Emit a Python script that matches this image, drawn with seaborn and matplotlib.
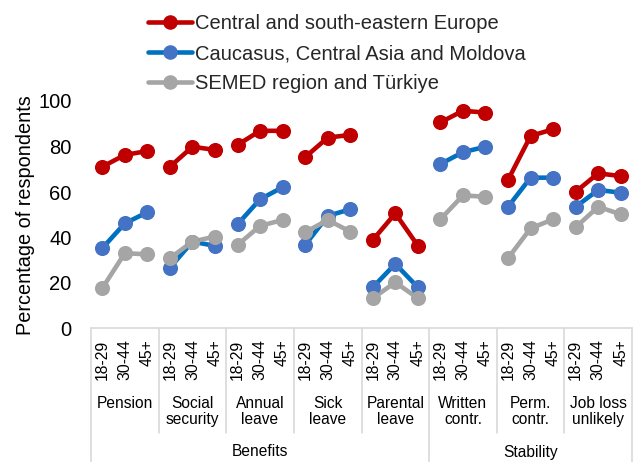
import matplotlib
matplotlib.use("Agg")
import matplotlib.pyplot as plt
from matplotlib.lines import Line2D
from matplotlib.transforms import blended_transform_factory
import numpy as np
import pandas as pd
import seaborn as sns

# ---- data -------------------------------------------------------------
regions = [
    "Central and south-eastern Europe",
    "Caucasus, Central Asia and Moldova",
    "SEMED region and Türkiye",
]
ages = ["18-29", "30-44", "45+"]
categories = ["Pension", "Social\nsecurity", "Annual\nleave", "Sick\nleave",
              "Parental\nleave", "Written\ncontr.", "Perm.\ncontr.", "Job loss\nunlikely"]
groups = ["Benefits", "Stability"]
group_sizes = [5, 3]

cse_europe = [71.1, 76.3, 78.0, 71.1, 79.9, 78.5, 80.7, 86.9, 86.9, 75.3, 83.9, 85.1,
              38.9, 50.6, 36.4, 90.6, 95.7, 94.9, 65.3, 84.6, 87.6, 60.1, 68.2, 67.0]
caucasus_ca_moldova = [35.3, 46.2, 51.1, 26.7, 38.2, 36.3, 45.8, 56.8, 62.1, 36.7, 49.5, 52.4,
                       18.1, 28.4, 18.1, 72.3, 77.5, 79.9, 53.5, 66.3, 66.3, 53.5, 60.9, 59.7]
semed_turkiye = [17.7, 33.1, 32.6, 30.9, 38.2, 40.4, 36.7, 45.1, 47.7, 42.3, 47.7, 42.6,
                 13.3, 20.3, 13.3, 48.0, 58.5, 57.9, 30.9, 44.0, 48.0, 44.5, 53.5, 50.2]

series_values = [cse_europe, caucasus_ca_moldova, semed_turkiye]
line_colors = ["#C00000", "#0070C0", "#A5A5A5"]
marker_colors = ["#C00000", "#4472C4", "#A5A5A5"]

# long-form table: one row per region / category / age group
rows = []
for region, vals in zip(regions, series_values):
    for ci, cat in enumerate(categories):
        for ai, age in enumerate(ages):
            i = ci * len(ages) + ai
            rows.append({"region": region, "category": cat, "age": age,
                         "pos": i, "value": vals[i]})
df = pd.DataFrame(rows)

# ---- figure -----------------------------------------------------------
sns.set_theme(style="white")
plt.rcParams["font.family"] = ["Liberation Sans", "DejaVu Sans"]

fig = plt.figure(figsize=(6.35, 4.62), dpi=100)
ax = fig.add_axes([91 / 635, (462 - 328.5) / 462, (632 - 91) / 635, (328.5 - 101) / 462])

for region, lc, mc in zip(regions, line_colors, marker_colors):
    sub = df[df["region"] == region]
    sns.lineplot(data=sub, x="pos", y="value", units="category", estimator=None,
                 color=lc, linewidth=3.3, sort=False, ax=ax, legend=False,
                 clip_on=False, zorder=2)
    sns.scatterplot(data=sub, x="pos", y="value", color=mc, s=118,
                    linewidth=0, ax=ax, legend=False, clip_on=False, zorder=3)

n = len(categories) * len(ages)
ax.set_xlim(-0.5, n - 0.5)
ax.set_ylim(0, 100)
ax.set_yticks([0, 20, 40, 60, 80, 100])
ax.tick_params(axis="y", labelsize=14.5, pad=14, length=0, colors="#000000")
ax.set_xticks(range(n))
ax.set_xticklabels([a for _ in categories for a in ages], rotation=90,
                   fontsize=11.3, va="top")
ax.tick_params(axis="x", length=0, pad=8, colors="#000000")
ax.set_xlabel("")
ax.set_ylabel("Percentage of respondents", fontsize=14.3, labelpad=2, color="#000000")
for s in ax.spines.values():
    s.set_visible(False)

# ---- category table below the axis -------------------------------------
tr = blended_transform_factory(ax.transData, fig.transFigure)
grid_c = "#D9D9D9"
y_top = (462 - 328) / 462
y_mid = (462 - 433) / 462
y_bot = 0.0
ax.plot([-0.5, n - 0.5], [y_top, y_top], transform=tr, color=grid_c, lw=1.2, clip_on=False)

bounds = [ci * len(ages) - 0.5 for ci in range(len(categories) + 1)]
group_edges = list(np.cumsum([0] + group_sizes) * len(ages) - 0.5)
for b in bounds:
    lo = y_bot if b in group_edges else y_mid
    ax.plot([b, b], [lo, y_top], transform=tr, color=grid_c, lw=1.2, clip_on=False)

for ci, cat in enumerate(categories):
    ax.text(ci * len(ages) + 1, (462 - 396) / 462, cat, transform=tr,
            ha="center", va="top", fontsize=11.2, linespacing=1.1, color="#000000")

for gi, g in enumerate(groups):
    center = (group_edges[gi] + group_edges[gi + 1]) / 2
    ax.text(center, (462 - 452) / 462, g, transform=tr, ha="center", va="center",
            fontsize=11.2, color="#000000")

# ---- legend ------------------------------------------------------------
handles = [Line2D([0], [0], color=lc, lw=3.3, marker="o", markersize=10.5,
                  markerfacecolor=mc, markeredgewidth=0)
           for lc, mc in zip(line_colors, marker_colors)]
fig.legend(handles, regions, loc="upper left", bbox_to_anchor=(134 / 635, 1.0),
           frameon=False, fontsize=14.5, handlelength=2.2, handletextpad=0.15,
           labelspacing=0.55, borderaxespad=0.3)

fig.savefig("out.png", dpi=100)
